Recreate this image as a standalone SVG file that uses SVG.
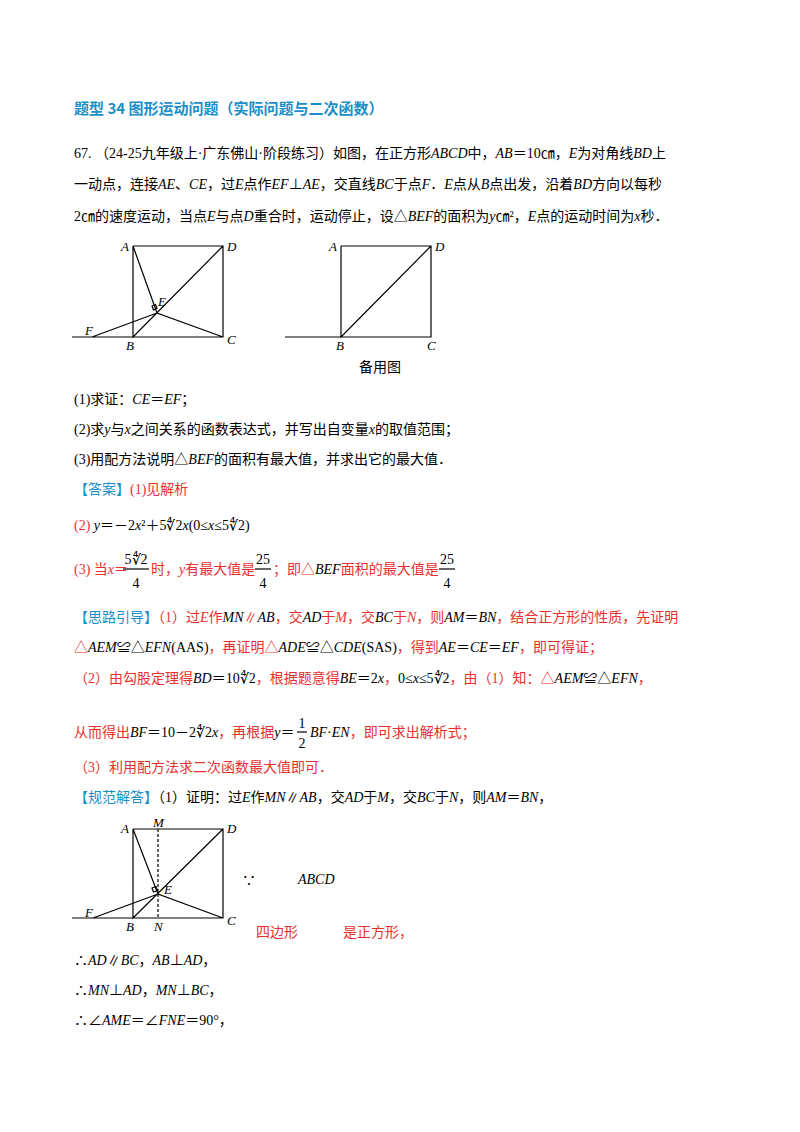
<svg xmlns="http://www.w3.org/2000/svg" width="800" height="1132" viewBox="0 0 800 1132">
<style>
text{font-family:"Liberation Serif","Noto Sans CJK SC",serif;font-size:14px;fill:#000}
.t{fill:#1b8fc9;font-weight:bold;font-family:"Noto Sans CJK SC",sans-serif;font-size:15px}
.r{fill:#e8312f}
.i{font-style:italic}
.l{font-style:italic;font-size:13px}
line,path{stroke:#000;stroke-width:1.2;fill:none}
</style>
<rect width="800" height="1132" fill="#fff"/>
<text class="t" x="74" y="114">题型 34  图形运动问题（实际问题与二次函数）</text>
<text x="74" y="158">67. （24-25九年级上·广东佛山·阶段练习）如图，在正方形<tspan class="i">ABCD</tspan>中，<tspan class="i">AB</tspan>＝10㎝，<tspan class="i">E</tspan>为对角线<tspan class="i">BD</tspan>上</text>
<text x="74" y="189">一动点，连接<tspan class="i">AE</tspan>、<tspan class="i">CE</tspan>，过<tspan class="i">E</tspan>点作<tspan class="i">EF</tspan>⊥<tspan class="i">AE</tspan>，交直线<tspan class="i">BC</tspan>于点<tspan class="i">F</tspan>．<tspan class="i">E</tspan>点从<tspan class="i">B</tspan>点出发，沿着<tspan class="i">BD</tspan>方向以每秒</text>
<text x="74" y="221">2㎝的速度运动，当点<tspan class="i">E</tspan>与点<tspan class="i">D</tspan>重合时，运动停止，设△<tspan class="i">BEF</tspan>的面积为<tspan class="i">y</tspan>㎝²，<tspan class="i">E</tspan>点的运动时间为<tspan class="i">x</tspan>秒．</text>
<g id="fig1">
<path d="M133 246H223V337H72M133 246V337L223 246M133 246L157 313L223 337M92 337L157 313"/>
<path d="M152 306l3.5 -1.5 1.5 4 -3.5 1.5z" stroke-width="1"/>
<text class="l" x="121" y="251">A</text><text class="l" x="227" y="251">D</text>
<text class="l" x="126" y="350">B</text><text class="l" x="227" y="344">C</text>
<text class="l" x="158" y="306">E</text><text class="l" x="85" y="335">F</text>
</g>
<g id="fig2">
<path d="M341 246H431V337H285M341 246V337L431 246"/>
<text class="l" x="329" y="251">A</text><text class="l" x="435" y="251">D</text>
<text class="l" x="336" y="350">B</text><text class="l" x="427" y="350">C</text>
<text x="359" y="372" font-size="13">备用图</text>
</g>
<text x="74" y="404">(1)求证：<tspan class="i">CE</tspan>＝<tspan class="i">EF</tspan>；</text>
<text x="74" y="434">(2)求<tspan class="i">y</tspan>与<tspan class="i">x</tspan>之间关系的函数表达式，并写出自变量<tspan class="i">x</tspan>的取值范围；</text>
<text x="74" y="464">(3)用配方法说明△<tspan class="i">BEF</tspan>的面积有最大值，并求出它的最大值．</text>
<text x="74" y="494"><tspan fill="#1b8fc9">【答案】</tspan><tspan class="r">(1)见解析</tspan></text>
<text x="74" y="530"><tspan class="r">(2) </tspan><tspan class="i">y</tspan>＝－2<tspan class="i">x</tspan>²＋5∜2<tspan class="i">x</tspan>(0≤<tspan class="i">x</tspan>≤5∜2)</text>
<text x="74" y="574" class="r">(3) 当<tspan class="i">x</tspan>＝</text>
<text x="136" y="564" text-anchor="middle">5∜2</text><line x1="123" y1="569" x2="149" y2="569"/><text x="136" y="588" text-anchor="middle">4</text>
<text x="151" y="574" class="r">时，<tspan class="i">y</tspan>有最大值是</text>
<text x="263" y="564" text-anchor="middle">25</text><line x1="255" y1="569" x2="271" y2="569"/><text x="263" y="588" text-anchor="middle">4</text>
<text x="273" y="574" class="r">；即△<tspan class="i" fill="#000">BEF</tspan>面积的最大值是</text>
<text x="447" y="564" text-anchor="middle">25</text><line x1="439" y1="569" x2="455" y2="569"/><text x="447" y="588" text-anchor="middle">4</text>
<text x="74" y="622"><tspan fill="#1b8fc9">【思路引导】</tspan><tspan class="r">（1）过<tspan class="i">E</tspan>作<tspan class="i" fill="#000">MN</tspan>∥<tspan class="i" fill="#000">AB</tspan>，交<tspan class="i" fill="#000">AD</tspan>于<tspan class="i">M</tspan>，交<tspan class="i" fill="#000">BC</tspan>于<tspan class="i">N</tspan>，则<tspan class="i" fill="#000">AM</tspan><tspan fill="#000">＝</tspan><tspan class="i" fill="#000">BN</tspan>，结合正方形的性质，先证明</tspan></text>
<text x="74" y="652" class="r">△<tspan class="i" fill="#000">AEM</tspan><tspan fill="#000">≌△</tspan><tspan class="i" fill="#000">EFN</tspan><tspan fill="#000">(AAS)</tspan>，再证明△<tspan class="i" fill="#000">ADE</tspan><tspan fill="#000">≌△</tspan><tspan class="i" fill="#000">CDE</tspan><tspan fill="#000">(SAS)</tspan>，得到<tspan class="i" fill="#000">AE</tspan><tspan fill="#000">＝</tspan><tspan class="i" fill="#000">CE</tspan><tspan fill="#000">＝</tspan><tspan class="i" fill="#000">EF</tspan>，即可得证；</text>
<text x="74" y="683" class="r">（2）由勾股定理得<tspan class="i" fill="#000">BD</tspan><tspan fill="#000">＝10∜2</tspan>，根据题意得<tspan class="i" fill="#000">BE</tspan><tspan fill="#000">＝2</tspan><tspan class="i" fill="#000">x</tspan>，<tspan fill="#000">0≤</tspan><tspan class="i" fill="#000">x</tspan><tspan fill="#000">≤5∜2</tspan>，由（1）知：△<tspan class="i" fill="#000">AEM</tspan><tspan fill="#000">≌△</tspan><tspan class="i" fill="#000">EFN</tspan>，</text>
<text x="74" y="737" class="r">从而得出<tspan class="i" fill="#000">BF</tspan><tspan fill="#000">＝10－2∜2</tspan><tspan class="i" fill="#000">x</tspan>，再根据<tspan class="i" fill="#000">y</tspan><tspan fill="#000">＝</tspan></text>
<text x="302" y="728" text-anchor="middle">1</text><line x1="297" y1="732" x2="307" y2="732"/><text x="302" y="748" text-anchor="middle">2</text>
<text x="310" y="737" class="r"><tspan class="i" fill="#000">BF</tspan><tspan fill="#000">·</tspan><tspan class="i" fill="#000">EN</tspan>，即可求出解析式；</text>
<text x="74" y="772" class="r">（3）利用配方法求二次函数最大值即可．</text>
<text x="74" y="802"><tspan fill="#1b8fc9">【规范解答】</tspan>（1）证明：过<tspan class="i">E</tspan>作<tspan class="i">MN</tspan>∥<tspan class="i">AB</tspan>，交<tspan class="i">AD</tspan>于<tspan class="i">M</tspan>，交<tspan class="i">BC</tspan>于<tspan class="i">N</tspan>，则<tspan class="i">AM</tspan>＝<tspan class="i">BN</tspan>，</text>
<g id="fig3">
<path d="M133 829H223V918H72M133 829V918L223 829M133 829L158 894L223 918M93 918L158 894"/>
<line x1="158" y1="829" x2="158" y2="918" stroke-dasharray="3,2" stroke-width="1"/>
<path d="M152 888l4 -1.5 1.5 4 -4 1.5z" stroke-width="1"/>
<text class="l" x="121" y="833">A</text><text class="l" x="153" y="827">M</text><text class="l" x="227" y="833">D</text>
<text class="l" x="126" y="931">B</text><text class="l" x="154" y="931">N</text><text class="l" x="227" y="925">C</text>
<text class="l" x="164" y="894">E</text><text class="l" x="85" y="917">F</text>
</g>
<text x="242" y="885">∵</text>
<text class="i" x="298" y="884" font-size="15">ABCD</text>
<text x="256" y="937" class="r">四边形</text>
<text x="343" y="937" class="r">是正方形，</text>
<text x="74" y="965">∴<tspan class="i">AD</tspan>∥<tspan class="i">BC</tspan>，<tspan class="i">AB</tspan>⊥<tspan class="i">AD</tspan>，</text>
<text x="74" y="995">∴<tspan class="i">MN</tspan>⊥<tspan class="i">AD</tspan>，<tspan class="i">MN</tspan>⊥<tspan class="i">BC</tspan>，</text>
<text x="74" y="1025">∴∠<tspan class="i">AME</tspan>＝∠<tspan class="i">FNE</tspan>＝90°，</text>
</svg>
